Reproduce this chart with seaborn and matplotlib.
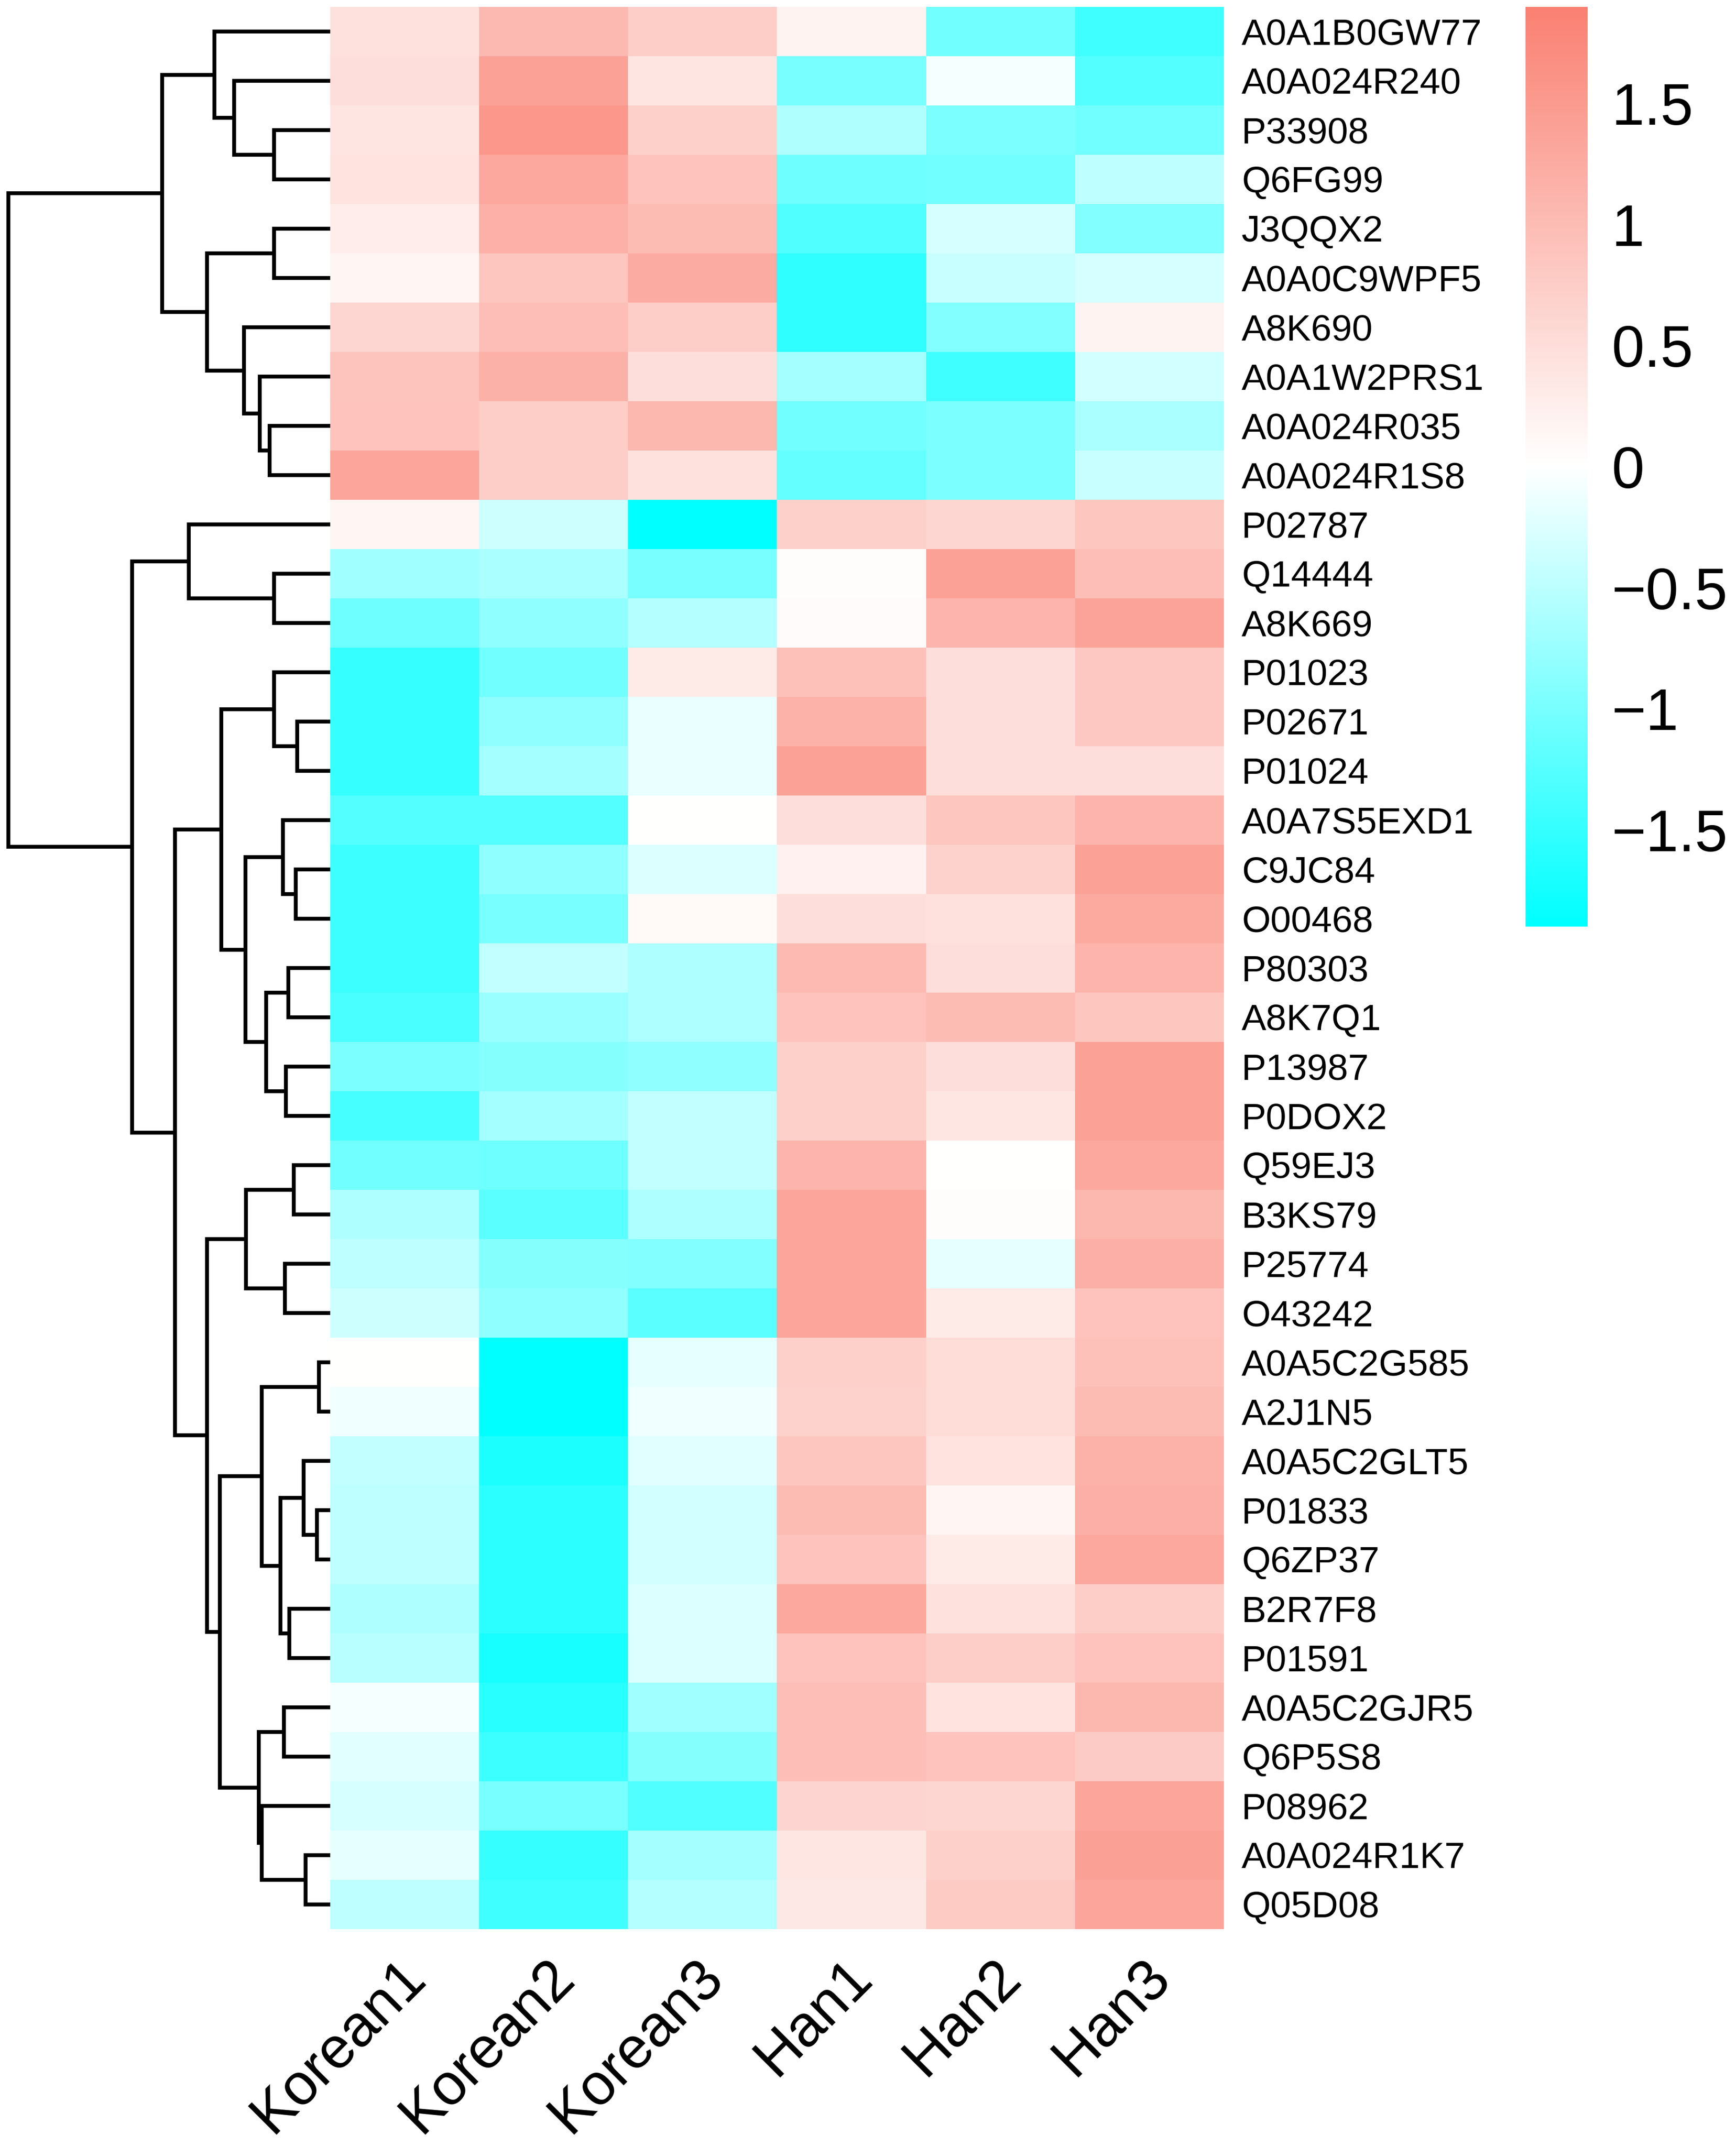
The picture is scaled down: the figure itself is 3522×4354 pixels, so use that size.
import numpy as np
import pandas as pd
import matplotlib
matplotlib.use("Agg")
import matplotlib.pyplot as plt
import seaborn as sns
from matplotlib.colors import LinearSegmentedColormap
from matplotlib.transforms import ScaledTranslation

# ---------------- data ----------------
proteins = ["A0A1B0GW77", "A0A024R240", "P33908", "Q6FG99", "J3QQX2", "A0A0C9WPF5",
            "A8K690", "A0A1W2PRS1", "A0A024R035", "A0A024R1S8", "P02787", "Q14444",
            "A8K669", "P01023", "P02671", "P01024", "A0A7S5EXD1", "C9JC84", "O00468",
            "P80303", "A8K7Q1", "P13987", "P0DOX2", "Q59EJ3", "B3KS79", "P25774",
            "O43242", "A0A5C2G585", "A2J1N5", "A0A5C2GLT5", "P01833", "Q6ZP37",
            "B2R7F8", "P01591", "A0A5C2GJR5", "Q6P5S8", "P08962", "A0A024R1K7", "Q05D08"]
samples = ["Korean1", "Korean2", "Korean3", "Han1", "Han2", "Han3"]

korean1 = [0.45, 0.5, 0.4, 0.42, 0.28, 0.15, 0.62, 0.88, 0.9, 1.35,
           0.15, -0.71, -1.08, -1.49, -1.49, -1.49, -1.27, -1.45, -1.45, -1.45,
           -1.34, -0.97, -1.37, -1.04, -0.6, -0.48, -0.37, 0.0, -0.11, -0.45,
           -0.48, -0.48, -0.6, -0.52, -0.07, -0.22, -0.3, -0.19, -0.48]
korean2 = [1.05, 1.4, 1.55, 1.3, 1.18, 0.85, 0.97, 1.17, 0.75, 0.75,
           -0.37, -0.63, -0.82, -1.04, -0.82, -0.67, -1.27, -0.82, -1.0, -0.45,
           -0.75, -0.9, -0.67, -1.08, -1.23, -0.9, -0.82, -1.9, -1.9, -1.68,
           -1.56, -1.56, -1.56, -1.71, -1.6, -1.45, -1.0, -1.49, -1.42]
korean3 = [0.75, 0.4, 0.7, 0.9, 1.0, 1.25, 0.75, 0.5, 1.07, 0.45,
           -1.9, -1.0, -0.56, 0.3, -0.15, -0.15, 0.0, -0.26, 0.1, -0.6,
           -0.6, -0.82, -0.45, -0.45, -0.6, -0.93, -1.23, -0.19, -0.11, -0.22,
           -0.34, -0.34, -0.26, -0.26, -0.71, -0.9, -1.3, -0.67, -0.56]
han1 = [0.18, -1.0, -0.58, -1.08, -1.3, -1.53, -1.53, -0.67, -1.04, -1.15,
        0.7, 0.03, 0.07, 0.93, 1.15, 1.4, 0.5, 0.22, 0.5, 1.03,
        0.9, 0.7, 0.7, 1.12, 1.35, 1.35, 1.35, 0.7, 0.67, 0.85,
        1.0, 0.9, 1.3, 0.9, 0.97, 0.97, 0.64, 0.38, 0.35]
han2 = [-1.05, -0.07, -0.97, -1.04, -0.3, -0.41, -0.93, -1.42, -0.97, -0.97,
        0.62, 1.4, 1.12, 0.5, 0.5, 0.5, 0.85, 0.67, 0.45, 0.5,
        1.0, 0.5, 0.38, 0.0, 0.03, -0.19, 0.3, 0.53, 0.53, 0.42,
        0.15, 0.3, 0.45, 0.75, 0.42, 0.9, 0.62, 0.7, 0.8]
han3 = [-1.42, -1.27, -1.05, -0.48, -0.93, -0.3, 0.18, -0.34, -0.63, -0.41,
        0.85, 0.97, 1.38, 0.83, 0.83, 0.5, 1.12, 1.4, 1.27, 1.12,
        0.85, 1.4, 1.4, 1.3, 1.07, 1.2, 0.9, 0.93, 1.0, 1.15,
        1.2, 1.3, 0.75, 0.9, 1.07, 0.78, 1.35, 1.42, 1.35]

cbar_ticks = [-1.5, -1, -0.5, 0, 0.5, 1, 1.5]
cbar_ticklabels = ["\u22121.5", "\u22121", "\u22120.5", "0", "0.5", "1", "1.5"]

# row dendrogram: (node, left child, right child, merge height); ints = leaf rows
row_merges = [
    ("A", 2, 3, 1.14), ("B", 1, "A", 1.95), ("C", 0, "B", 2.35),
    ("D", 4, 5, 1.14), ("E", 8, 9, 1.23), ("F", 7, "E", 1.43),
    ("G", 6, "F", 1.75), ("H", "D", "G", 2.50), ("I", "C", "H", 3.41),
    ("J", 11, 12, 1.14), ("K", 10, "J", 2.87),
    ("L", 14, 15, 0.67), ("M", 13, "L", 1.14),
    ("N", 17, 18, 0.70), ("O", 16, "N", 0.96),
    ("P", 19, 20, 0.85), ("Q", 21, 22, 0.90), ("R", "P", "Q", 1.30),
    ("S", "O", "R", 1.72), ("T", "M", "S", 2.21),
    ("U", 23, 24, 0.74), ("V", 25, 26, 0.92), ("W", "U", "V", 1.71),
    ("X1", 27, 28, 0.23), ("Y1", 30, 31, 0.27), ("Z1", 29, "Y1", 0.54),
    ("A2", 32, 33, 0.83), ("B2", "Z1", "A2", 1.01), ("C2", "X1", "B2", 1.39),
    ("D2", 34, 35, 0.94), ("E2", 37, 38, 0.50), ("F2", 36, "E2", 1.39),
    ("G2", "D2", "F2", 1.45), ("H2", "C2", "G2", 2.24), ("I2", "W", "H2", 2.50),
    ("J2", "T", "I2", 3.15), ("K2", "K", "J2", 4.02), ("ROOT", "I", "K2", 6.53),
]

# ---------------- figure ----------------
plt.rcParams["font.family"] = ["Liberation Sans", "DejaVu Sans"]
W, H = 3523, 4354
fig = plt.figure(figsize=(W / 100, H / 100), dpi=100)

hm_left, hm_right, hm_top, hm_bot = 670, 2483, 14, 3914
ax = fig.add_axes([hm_left / W, (H - hm_bot) / H, (hm_right - hm_left) / W, (hm_bot - hm_top) / H])
cax = fig.add_axes([3095 / W, (H - 1880) / H, 126 / W, (1880 - 14) / H])
dax = fig.add_axes([17 / W, (H - hm_bot) / H, (hm_left - 17) / W, (hm_bot - hm_top) / H])

df = pd.DataFrame({"Korean1": korean1, "Korean2": korean2, "Korean3": korean3,
                   "Han1": han1, "Han2": han2, "Han3": han3}, index=proteins)[samples]

cmap = LinearSegmentedColormap.from_list("cws", ["#00FFFF", "#FFFFFF", "#FA8072"])
sns.heatmap(df, cmap=cmap, vmin=-1.9, vmax=1.9, ax=ax, cbar_ax=cax,
            xticklabels=True, yticklabels=True, linewidths=0)

ax.yaxis.tick_right()
ax.set_yticks(np.arange(len(proteins)) + 0.5)
ax.set_yticklabels(proteins, rotation=0, fontsize=54, va="center")
ax.tick_params(axis="y", length=0, pad=26)
yoff = ScaledTranslation(0, -0.07, fig.dpi_scale_trans)
for lab in ax.get_yticklabels():
    lab.set_transform(lab.get_transform() + yoff)
ax.set_xticks(np.arange(len(samples)) + 0.5)
ax.set_xticklabels(samples, rotation=45, ha="right", va="center",
                   rotation_mode="anchor", fontsize=85)
ax.tick_params(axis="x", length=0, pad=58)
offset = ScaledTranslation(0.24, 0, fig.dpi_scale_trans)
for lab in ax.get_xticklabels():
    lab.set_transform(lab.get_transform() + offset)
ax.set_xlabel("")
ax.set_ylabel("")

cax.set_yticks(cbar_ticks)
cax.set_yticklabels(cbar_ticklabels, fontsize=86)
cax.tick_params(length=0, pad=35)
for s in cax.spines.values():
    s.set_visible(False)

# dendrogram
pos = {i: i + 0.5 for i in range(len(proteins))}
hts = {i: 0.0 for i in range(len(proteins))}
for name, l, r, h in row_merges:
    dax.plot([hts[l], h, h, hts[r]], [pos[l], pos[l], pos[r], pos[r]],
             color="black", lw=5.6, solid_joinstyle="miter", solid_capstyle="butt",
             clip_on=False)
    pos[name] = (pos[l] + pos[r]) / 2
    hts[name] = h
dax.set_xlim(row_merges[-1][3], 0)
dax.set_ylim(len(proteins), 0)
dax.axis("off")

fig.savefig("out.png", dpi=100, facecolor="white")
